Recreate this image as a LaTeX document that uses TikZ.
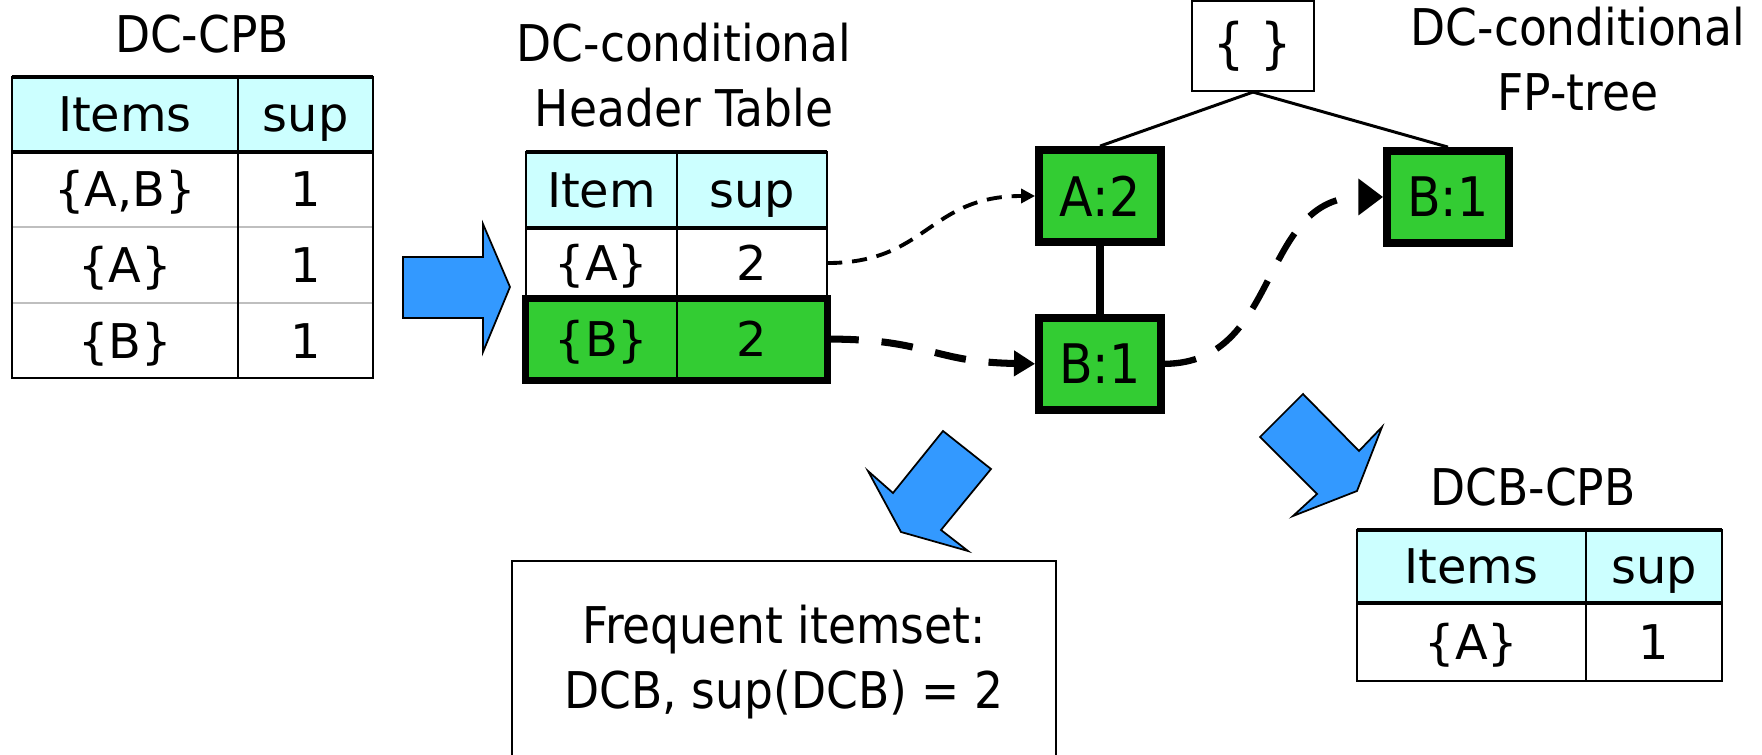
\documentclass[tikz,border=0pt]{standalone}
\usepackage{fontspec}
\setmainfont{DejaVu Sans}
\newfontfamily\narrowfont[FakeStretch=0.9]{DejaVu Sans}
\usepackage{xcolor}
\usetikzlibrary{positioning, arrows.meta}

\definecolor{headcyan}{HTML}{CCFFFF}
\definecolor{nodegreen}{HTML}{33CC33}
\definecolor{arrowblue}{HTML}{3399FF}
\newcommand{\tabfont}{\fontsize{13.6}{15}\selectfont}
\newcommand{\titlefont}{\narrowfont\fontsize{14.4}{18.5}\selectfont}
\newcommand{\fpfont}{\narrowfont\fontsize{15.5}{18.5}\selectfont}

\begin{document}
\begin{tikzpicture}[x=0.01cm, y=-0.01cm]

% --- Styles ---
\tikzset{
    cellbox/.style={rectangle, inner sep=0pt, outer sep=0pt, font=\tabfont, text height=9.9pt, text depth=0pt},
    headcell/.style={cellbox, fill=headcyan},
    greencell/.style={cellbox, fill=nodegreen},
    titletext/.style={align=center, inner sep=0pt, font=\titlefont},
    fpnode/.style={rectangle, draw=black, line width=2.2pt, fill=nodegreen, minimum width=1.22cm, minimum height=0.92cm, inner sep=0pt, font=\fpfont},
    gridline/.style={line width=0.6pt},
    boldline/.style={line width=0.9pt},
    rowline/.style={line width=0.6pt, black!25},
    treeedge/.style={line width=0.85pt},
    bigarrow/.style={fill=arrowblue, draw=black, line width=0.5pt},
    thinlink/.style={line width=1.1pt, dash pattern=on 4.3pt off 2.8pt, -{Triangle[length=4pt, width=4pt]}},
    thicklink/.style={line width=2pt, dash pattern=on 9pt off 6.5pt, -{Triangle[length=6pt, width=7pt]}},
}

\clip (0,0) rectangle (1762,755);

% --- DC-CPB (left) ---
\node[titletext] (cpbtitle) at (202,34) {DC-CPB};
\node[headcell, minimum width=2.26cm, minimum height=0.75cm] (t1h1) at (125,114.5) {Items};
\node[headcell, minimum width=1.35cm, minimum height=0.75cm, right=0pt of t1h1] (t1h2) {sup};
\node[cellbox, minimum width=2.26cm, minimum height=0.75cm, below=0pt of t1h1] (t1a1) {\{A,B\}};
\node[cellbox, minimum width=1.35cm, minimum height=0.75cm, below=0pt of t1h2] (t1a2) {1};
\node[cellbox, minimum width=2.26cm, minimum height=0.76cm, below=0pt of t1a1] (t1b1) {\{A\}};
\node[cellbox, minimum width=1.35cm, minimum height=0.76cm, below=0pt of t1a2] (t1b2) {1};
\node[cellbox, minimum width=2.26cm, minimum height=0.75cm, below=0pt of t1b1] (t1c1) {\{B\}};
\node[cellbox, minimum width=1.35cm, minimum height=0.75cm, below=0pt of t1b2] (t1c2) {1};
\draw[rowline] (t1a1.south west) -- (t1a2.south east);
\draw[rowline] (t1b1.south west) -- (t1b2.south east);
\draw[gridline] (t1h1.north east) -- (t1c1.south east);
\draw[gridline] (t1h1.north west) rectangle (t1c2.south east);
\draw[boldline] (t1h1.south west) -- (t1h2.south east);
\draw[boldline] (t1h1.north west) -- (t1h2.north east);

% --- DC-conditional header table ---
\node[titletext] (httitle) at (684,75) {DC-conditional\\Header Table};
\node[headcell, minimum width=1.51cm, minimum height=0.76cm] (t2h1) at (601.5,190) {Item};
\node[headcell, minimum width=1.50cm, minimum height=0.76cm, right=0pt of t2h1] (t2h2) {sup};
\node[cellbox, minimum width=1.51cm, minimum height=0.70cm, below=0pt of t2h1] (t2a1) {\{A\}};
\node[cellbox, minimum width=1.50cm, minimum height=0.70cm, below=0pt of t2h2] (t2a2) {2};
\node[greencell, minimum width=1.51cm, minimum height=0.82cm, below=0pt of t2a1] (t2b1) {\{B\}};
\node[greencell, minimum width=1.50cm, minimum height=0.82cm, below=0pt of t2a2] (t2b2) {2};
\draw[gridline] (t2h1.north east) -- (t2b1.south east);
\draw[gridline] (t2h1.north west) rectangle (t2b2.south east);
\draw[boldline] (t2h1.south west) -- (t2h2.south east);
\draw[boldline] (t2h1.north west) -- (t2h2.north east);
\draw[line width=2pt] (t2b1.north west) rectangle (t2b2.south east);

% --- DC-conditional FP-tree ---
\node[titletext] (fptitle) at (1578,59) {DC-conditional\\FP-tree};
\node[draw, line width=0.6pt, minimum width=1.22cm, minimum height=0.9cm, inner sep=0pt, font=\fpfont] (root) at (1253,46) {\{ \}};
\node[fpnode] (a2) at (1100,196) {A:2};
\node[fpnode, below=0.68cm of a2] (b1) {B:1};
\node[fpnode] (b1r) at (1448,197) {B:1};

\draw[treeedge] (root.south) -- (a2.north);
\draw[treeedge] (root.south) -- (b1r.north);
\draw[line width=2pt] (a2) -- (b1);

% --- Node links ---
\draw[thinlink] (t2a2.east) .. controls (928,263) and (928,196) .. (a2.west);
\draw[thicklink] (t2b2.east) .. controls (930,339) and (930,362) .. (b1.west);
\draw[thicklink, line width=1.8pt, -{Triangle[length=7pt, width=10pt]}] (b1.east) .. controls (1282,363) and (1258,197) .. (b1r.west);

% --- Block arrows ---
\draw[bigarrow] (403,257) -- (483,257) -- (483,224) -- (510,287) -- (483,352) -- (483,318) -- (403,318) -- cycle;
\draw[bigarrow] (943,431) -- (991,469) -- (941,530) -- (968,551) -- (901,532) -- (868,471) -- (893,493) -- cycle;
\draw[bigarrow] (1303,394) -- (1359,451) -- (1382,427) -- (1357,491) -- (1293,516) -- (1317,494) -- (1260,437) -- cycle;

% --- Result box ---
\node[draw, line width=0.6pt, minimum width=5.44cm, minimum height=2.02cm, align=center, font=\titlefont] (freq) at (784,662) {Frequent itemset:\\DCB, sup(DCB) = 2};

% --- DCB-CPB (right) ---
\node[titletext] (dcbtitle) at (1533,487) {DCB-CPB};
\node[headcell, minimum width=2.29cm, minimum height=0.73cm] (t3h1) at (1471.5,566.5) {Items};
\node[headcell, minimum width=1.36cm, minimum height=0.73cm, right=0pt of t3h1] (t3h2) {sup};
\node[cellbox, minimum width=2.29cm, minimum height=0.78cm, below=0pt of t3h1] (t3a1) {\{A\}};
\node[cellbox, minimum width=1.36cm, minimum height=0.78cm, below=0pt of t3h2] (t3a2) {1};
\draw[gridline] (t3h1.north east) -- (t3a1.south east);
\draw[gridline] (t3h1.north west) rectangle (t3a2.south east);
\draw[boldline] (t3h1.south west) -- (t3h2.south east);
\draw[boldline] (t3h1.north west) -- (t3h2.north east);

\end{tikzpicture}
\end{document}
